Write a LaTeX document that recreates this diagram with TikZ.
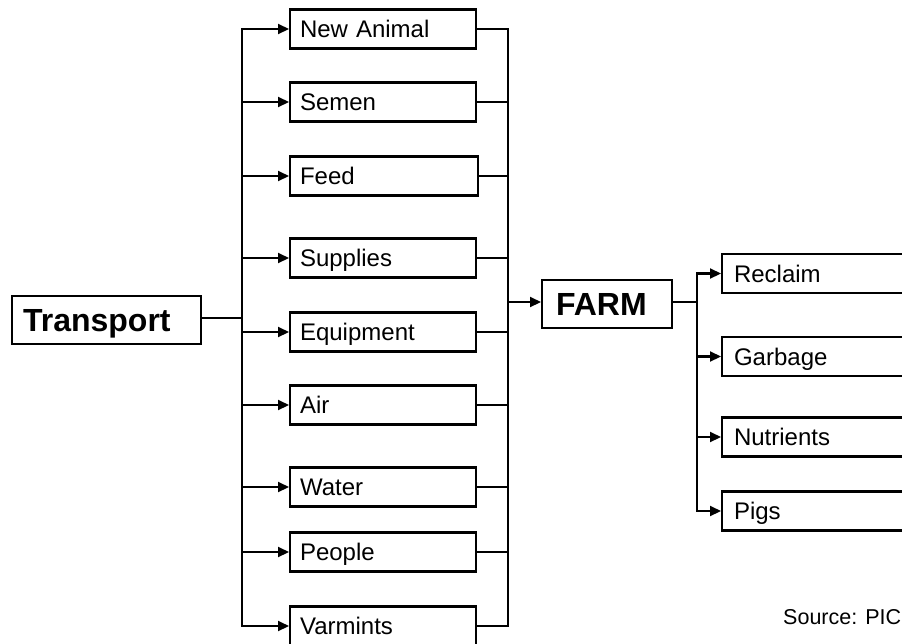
\documentclass[tikz,border=0pt]{standalone}
\usepackage{fontspec}
\setmainfont{Liberation Sans}
\usetikzlibrary{arrows.meta}
\begin{document}
\begin{tikzpicture}[x=1pt,y=-1pt,
  ln/.style={line width=2.1pt},
  arr/.style={line width=2.1pt,-{Triangle[length=11pt,width=10pt]}},
  bus/.style={line width=2.1pt,line cap=rect},
  box/.style={draw, line width=2.1pt, rectangle, anchor=west, minimum height=39pt,
    inner xsep=10pt, inner ysep=0pt, text width=#1, align=left,
    font=\fontsize{24}{28}\selectfont, text height=17pt, text depth=0pt},
  bigbox/.style={draw, line width=2.1pt, rectangle, anchor=west, minimum height=48pt,
    inner ysep=0pt, align=left, font=\bfseries\fontsize{32}{36}\selectfont,
    text height=23pt, text depth=0pt}
]
\useasboundingbox (0,0) rectangle (902,643);
\clip (0,0) rectangle (902,643);
\fill[white] (0,0) rectangle (902,643);

% left block
\node[bigbox, inner xsep=11pt, text width=167pt] (tr) at (11,320) {Transport};

\node[box=166pt] (na)  at (289,29)  {New Animal};
\node[box=166pt] (se)  at (289,102) {Semen};
\node[box=168pt] (fe)  at (289,176) {Feed};
\node[box=166pt] (su)  at (289,258) {Supplies};
\node[box=166pt] (eq)  at (289,332) {Equipment};
\node[box=166pt] (air) at (289,405) {Air};
\node[box=166pt] (wa)  at (289,487) {Water};
\node[box=166pt] (pe)  at (289,552) {People};
\node[box=166pt] (va)  at (289,626) {Varmints};

\coordinate (bl) at (242,318);
\coordinate (br) at (508,302);

\draw[ln] (tr.east |- bl) -- (bl);
\draw[bus] (bl |- na.west) -- (bl |- va.west);
\foreach \n in {na,se,fe,su,eq,air,wa,pe,va}{
  \draw[arr] (bl |- \n.west) -- (\n.west);
  \draw[ln] (\n.east) -- (\n.east -| br);
}
\draw[bus] (br |- na.east) -- (br |- va.east);

% farm
\node[bigbox, inner xsep=14pt, text width=102pt] (farm) at (541,304) {FARM};
\draw[arr] (br) -- (br -| farm.west);

% outputs
\node[box=186pt, inner xsep=12pt] (re) at (721,273.5) {Reclaim};
\node[box=186pt, inner xsep=12pt] (ga) at (721,356.5) {Garbage};
\node[box=186pt, inner xsep=12pt] (nu) at (721,437)   {Nutrients};
\node[box=186pt, inner xsep=12pt] (pi) at (721,511)   {Pigs};

\coordinate (bf) at (697,302);
\draw[ln] (farm.east |- bf) -- (bf);
\draw[bus] (bf |- re.west) -- (bf |- pi.west);
\foreach \n in {re,ga,nu,pi}{
  \draw[arr] (bf |- \n.west) -- (\n.west);
}

\node[anchor=base west, inner sep=0pt, font=\fontsize{21.5}{24}\selectfont] (src) at (783,624) {Source: PIC};
\end{tikzpicture}
\end{document}
